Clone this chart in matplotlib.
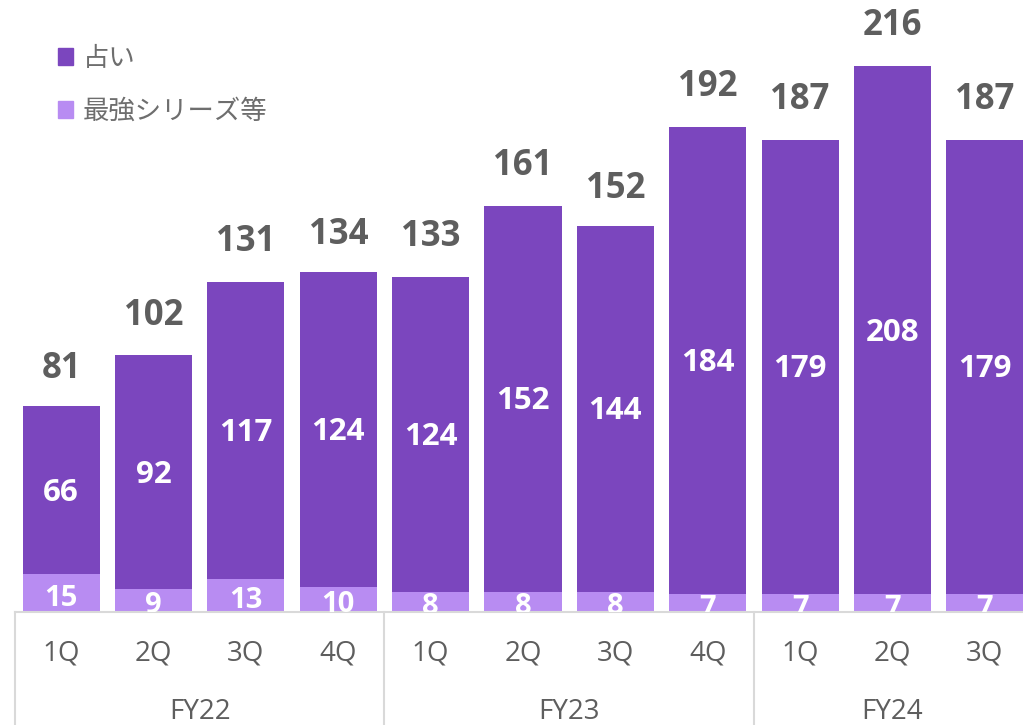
import matplotlib
matplotlib.use("Agg")
import matplotlib.pyplot as plt
from matplotlib.patches import Patch
from matplotlib.transforms import blended_transform_factory

plt.rcParams['font.family'] = ['Noto Sans CJK JP', 'DejaVu Sans']
num_font = ['Open Sans', 'DejaVu Sans']

quarters = ['1Q', '2Q', '3Q', '4Q', '1Q', '2Q', '3Q', '4Q', '1Q', '2Q', '3Q']
fiscal_years = ['FY22', 'FY23', 'FY24']
year_sizes = [4, 4, 3]
uranai = [66, 92, 117, 124, 124, 152, 144, 184, 179, 208, 179]
saikyo = [15, 9, 13, 10, 8, 8, 8, 7, 7, 7, 7]
totals = [81, 102, 131, 134, 133, 161, 152, 192, 187, 216, 187]
series_names = ['占い', '最強シリーズ等']

dark = '#7B46BE'
light = '#B88CF2'
grid_col = '#D9D9D9'
text_grey = '#5E5E5E'

W, H = 1023, 725
fig = plt.figure(figsize=(W / 100, H / 100), dpi=100)
base_px = 612
px_per_unit = 2.54
ax = fig.add_axes([15 / W, (H - base_px) / H, 1016 / W, base_px / H])
ax.set_xlim(-0.5, 10.5)
ax.set_ylim(0, base_px / px_per_unit)

x = list(range(len(quarters)))
width = 0.835
ax.bar(x, saikyo, width, color=light, zorder=2)
ax.bar(x, uranai, width, bottom=saikyo, color=dark, zorder=2)

for i in x:
    ax.text(i, saikyo[i] / 2 - 2, str(saikyo[i]), ha='center', va='center',
            family=num_font, color='white', fontsize=21, fontweight='bold',
            clip_on=True, zorder=3)
    ax.text(i, saikyo[i] + uranai[i] / 2 - 1, str(uranai[i]), ha='center', va='center',
            family=num_font, color='white', fontsize=22.5, fontweight='bold', zorder=3)
    ax.text(i, totals[i] + 11, str(totals[i]), ha='center', va='baseline',
            family=num_font, color=text_grey, fontsize=25, fontweight='bold', zorder=3)

# axis styling
for side in ['top', 'left', 'right']:
    ax.spines[side].set_visible(False)
ax.spines['bottom'].set_color(grid_col)
ax.spines['bottom'].set_linewidth(1.5)
ax.set_yticks([])
ax.set_xticks(x)
ax.set_xticklabels(quarters, fontsize=20, color=text_grey, family=num_font)
ax.tick_params(axis='x', length=0, pad=20)

# fiscal-year group labels and separators
trans = blended_transform_factory(ax.transData, ax.transAxes)
axis_h = base_px
start = 0
for fy, n in zip(fiscal_years, year_sizes):
    ax.plot([start - 0.5, start - 0.5], [0, -120 / axis_h], transform=trans,
            color=grid_col, lw=1.5, clip_on=False)
    ax.text(start + (n - 1) / 2, -100 / axis_h, fy, transform=trans,
            ha='center', va='center', fontsize=20, color=text_grey, family=num_font)
    start += n

# legend
handles = [Patch(color=dark, label=series_names[0]),
           Patch(color=light, label=series_names[1])]
fig.legend(handles=handles, loc='upper left', bbox_to_anchor=(47 / W, 1 - 34 / H),
           frameon=False, fontsize=19, labelcolor='#6E6E6E',
           handlelength=0.6, handleheight=0.6, handletextpad=0.35,
           labelspacing=1.0, borderaxespad=0)

fig.savefig('out.png', dpi=100)
